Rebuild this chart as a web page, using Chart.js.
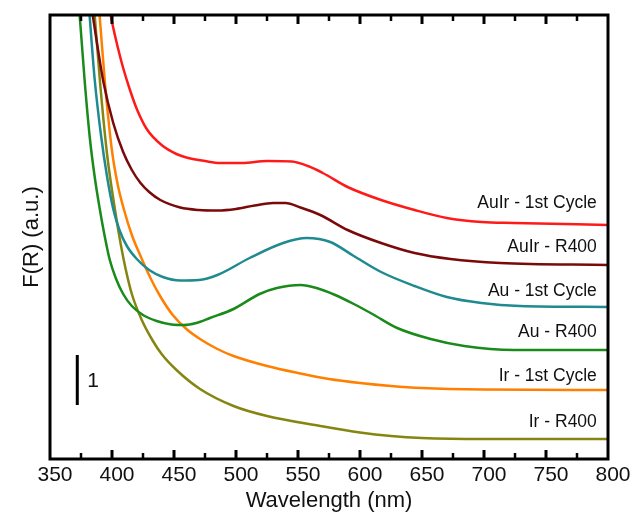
<!DOCTYPE html>
<html>
<head>
<meta charset="utf-8">
<script src="https://cdn.jsdelivr.net/npm/chart.js@4"></script>
<style>
html,body{margin:0;padding:0;background:#fff;}
#wrap{width:634px;height:516px;position:relative;}
</style>
</head>
<body>
<div id="wrap"><canvas id="c" width="634" height="516"></canvas></div>
<script>
// ---- data (wavelength in nm, F(R) in arbitrary offset units) ----
const seriesNames = ["AuIr - 1st Cycle", "AuIr - R400", "Au - 1st Cycle", "Au - R400", "Ir - 1st Cycle", "Ir - R400"];

const auIr1stX = [395, 399.7, 405, 409, 414.5, 420, 428, 440, 452, 460, 475, 487, 505, 525, 545, 558, 570, 590, 617, 644, 670, 698, 724, 800];
const auIr1stY = [9.45, 8.78, 8.2, 7.82, 7.38, 7.0, 6.6, 6.28, 6.1, 6.03, 5.96, 5.92, 5.92, 5.96, 5.95, 5.86, 5.72, 5.44, 5.18, 4.98, 4.82, 4.74, 4.72, 4.68];

const auIrR400X = [380, 384, 388, 393, 401, 409, 416, 423, 430, 439, 455, 470, 485, 500, 515, 530, 540, 552, 568, 590, 617, 644, 673, 713, 800];
const auIrR400Y = [9.6, 8.95, 8.3, 7.55, 6.72, 6.14, 5.78, 5.52, 5.34, 5.18, 5.03, 4.98, 4.97, 5.0, 5.07, 5.12, 5.12, 5.03, 4.88, 4.58, 4.32, 4.12, 4.0, 3.92, 3.88];

const au1stX = [379, 382, 386, 391, 396, 401, 406, 412, 420, 430, 441, 455, 470, 485, 511, 538, 557, 576, 595, 617, 644, 670, 698, 729, 800];
const au1stY = [9.8, 8.85, 7.6, 6.5, 5.65, 5.0, 4.58, 4.26, 4.0, 3.78, 3.64, 3.57, 3.58, 3.68, 4.02, 4.32, 4.42, 4.34, 4.06, 3.74, 3.46, 3.24, 3.12, 3.06, 3.04];

const auR400X = [371, 374, 378, 382, 386, 390, 394, 398, 403, 409, 416, 425, 436, 448, 458, 468, 479, 498, 519, 533, 552, 565, 580, 595, 610, 630, 657, 684, 724, 800];
const auR400Y = [9.9, 8.85, 7.55, 6.45, 5.65, 5.02, 4.47, 4.0, 3.62, 3.3, 3.06, 2.88, 2.76, 2.69, 2.68, 2.72, 2.82, 3.0, 3.3, 3.42, 3.48, 3.42, 3.28, 3.1, 2.9, 2.62, 2.4, 2.26, 2.18, 2.18];

const ir1stX = [386.5, 390.3, 394.4, 399.8, 404.5, 409.5, 416, 423, 431, 439, 449, 460, 471, 485, 498, 525, 550, 575, 600, 625, 650, 700, 800];
const ir1stY = [10.0, 8.78, 7.5, 6.2, 5.5, 5.0, 4.48, 4.06, 3.62, 3.25, 2.88, 2.6, 2.4, 2.2, 2.06, 1.86, 1.72, 1.6, 1.52, 1.46, 1.42, 1.39, 1.38];

const irR400X = [382, 386.3, 390.3, 396, 402, 407, 411, 416, 424, 433, 440, 452, 471, 498, 525, 568, 600, 625, 650, 700, 800];
const irR400Y = [10.2, 8.8, 7.55, 6.1, 5.05, 4.3, 3.8, 3.3, 2.78, 2.36, 2.1, 1.78, 1.4, 1.06, 0.86, 0.66, 0.53, 0.46, 0.42, 0.4, 0.4];

// scale bar: one unit of F(R)
const scaleBarX = [372, 372];
const scaleBarY = [1.08, 2.08];
const scaleBarLabel = "1";

// x tick values
const xMin = 350, xMax = 800, xMajorStep = 50, xMinorStep = 25;
const yMin = 0, yMax = 8.88;

// label anchors (nm, F(R) units) for the curve names
const labelX = 791;
const labelY = [5.12, 4.24, 3.36, 2.54, 1.66, 0.74];

const colors = ["#ff1a1a", "#7a0a0a", "#1f8a8f", "#1a8a1a", "#ff8000", "#858511"];

function pts(xs, ys){ return xs.map((x,i)=>({x:x, y:ys[i]})); }

const seriesData = [
  pts(auIr1stX, auIr1stY),
  pts(auIrR400X, auIrR400Y),
  pts(au1stX, au1stY),
  pts(auR400X, auR400Y),
  pts(ir1stX, ir1stY),
  pts(irR400X, irR400Y)
];

const datasets = seriesData.map((d,i)=>({
  label: seriesNames[i],
  data: d,
  borderColor: colors[i],
  borderWidth: 2.5,
  pointRadius: 0,
  fill: false,
  cubicInterpolationMode: 'monotone'
}));
datasets.push({
  label: 'scale',
  data: pts(scaleBarX, scaleBarY),
  borderColor: '#000',
  borderWidth: 3,
  pointRadius: 0,
  fill: false,
  borderCapStyle: 'butt'
});

const FONT = "'Liberation Sans', Arial, sans-serif";

const framePlugin = {
  id: 'frame',
  afterDatasetsDraw(chart){
    const ctx = chart.ctx;
    const a = chart.chartArea;
    const xs = chart.scales.x;
    const ys = chart.scales.y;
    ctx.save();
    // labels
    ctx.fillStyle = '#111';
    ctx.font = "17.5px " + FONT;
    ctx.textAlign = 'right';
    ctx.textBaseline = 'middle';
    seriesNames.forEach((n,i)=>{
      ctx.fillText(n, xs.getPixelForValue(labelX), ys.getPixelForValue(labelY[i]));
    });
    // scale bar label
    ctx.textAlign = 'left';
    ctx.font = "21px " + FONT;
    ctx.fillText(scaleBarLabel, xs.getPixelForValue(scaleBarX[0]) + 10, ys.getPixelForValue((scaleBarY[0]+scaleBarY[1])/2) + 1);
    // ticks
    ctx.strokeStyle = '#000';
    for (let v = xMin + xMinorStep; v < xMax; v += xMinorStep){
      const px = xs.getPixelForValue(v);
      const major = (v % xMajorStep) === 0;
      const len = major ? 9 : 6;
      ctx.lineWidth = major ? 3 : 2.5;
      ctx.beginPath();
      ctx.moveTo(px, a.bottom); ctx.lineTo(px, a.bottom - len);
      ctx.moveTo(px, a.top); ctx.lineTo(px, a.top + len);
      ctx.stroke();
    }
    // frame
    ctx.lineWidth = 3;
    ctx.strokeRect(a.left, a.top, a.right - a.left, a.bottom - a.top);
    ctx.restore();
  }
};

new Chart(document.getElementById('c'), {
  type: 'line',
  data: { datasets: datasets },
  options: {
    responsive: false,
    animation: false,
    events: [],
    layout: { padding: { top: 15, right: 26, left: 0, bottom: 0 } },
    plugins: { legend: { display: false }, tooltip: { enabled: false } },
    scales: {
      x: {
        type: 'linear',
        min: xMin, max: xMax,
        grid: { display: false, drawTicks: false },
        border: { display: false },
        ticks: {
          stepSize: xMajorStep,
          padding: 4,
          labelOffset: 5,
          color: '#111',
          font: { size: 21, family: FONT },
          maxRotation: 0,
          autoSkip: false
        },
        title: {
          display: true,
          text: 'Wavelength (nm)',
          color: '#111',
          font: { size: 22, family: FONT },
          padding: { top: 0, bottom: 2 }
        },
        afterFit(s){ s.height = 57; }
      },
      y: {
        type: 'linear',
        min: yMin, max: yMax,
        grid: { display: false, drawTicks: false },
        border: { display: false },
        ticks: { display: false },
        title: {
          display: true,
          text: 'F(R) (a.u.)',
          color: '#111',
          font: { size: 22, family: FONT },
          padding: { top: 19, bottom: 0 }
        },
        afterFit(s){ s.width = 50; }
      }
    }
  },
  plugins: [framePlugin]
});
</script>
</body>
</html>
